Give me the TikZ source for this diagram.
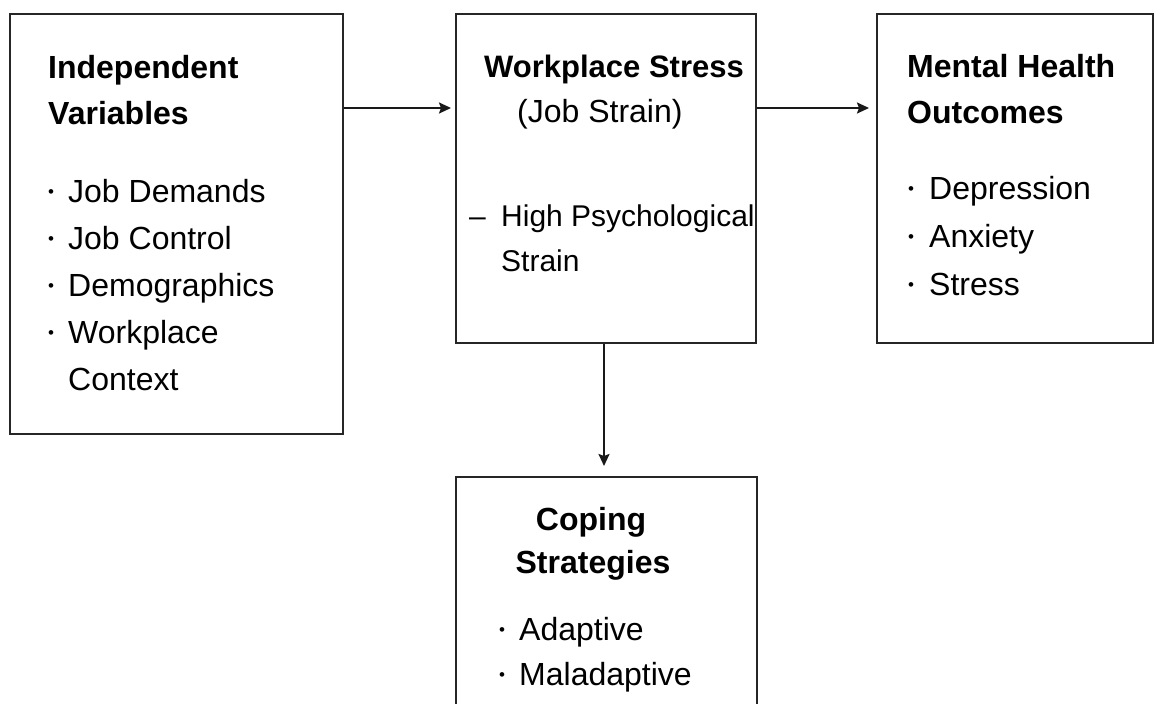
\documentclass[tikz,border=0pt]{standalone}
\usepackage{fontspec}
\setmainfont{Liberation Sans}
\usetikzlibrary{arrows.meta}
\newcommand\bul[1]{\makebox[#1][l]{\raisebox{4.5pt}{\fontsize{17}{17}\selectfont •}}}
\begin{document}
\begin{tikzpicture}[x=1pt,y=-1pt,
  box/.style={draw=black!85, line width=2pt, anchor=north west, inner sep=0pt},
  ttl/.style={anchor=base west, inner sep=0pt, font=\fontsize{32}{38}\selectfont\bfseries},
  txt/.style={anchor=base west, inner sep=0pt, font=\fontsize{32}{38}\selectfont},
  arr/.style={line width=2pt, draw=black!90, -{Stealth[length=12pt,width=11pt,inset=2pt]}}]
\useasboundingbox[fill=white] (0,0) rectangle (1154,704);
% boxes
\node[box, minimum width=333pt, minimum height=420pt] (iv) at (9,13) {};
\node[box, minimum width=300pt, minimum height=329pt] (ws) at (455,13) {};
\node[box, minimum width=276pt, minimum height=329pt] (mh) at (876,13) {};
\node[box, minimum width=301pt, minimum height=250pt] (cs) at (455,476) {};
% box 1 text
\node[ttl] (iv1) at (48,78) {Independent};
\node[ttl] (iv2) at (48,124) {Variables};
\node[txt] (iv3) at (48,202) {\bul{20pt}Job Demands};
\node[txt] (iv4) at (48,249) {\bul{20pt}Job Control};
\node[txt] (iv5) at (48,296) {\bul{20pt}Demographics};
\node[txt] (iv6) at (48,343) {\bul{20pt}Workplace};
\node[txt] (iv7) at (68,390) {Context};
% box 2 text
\node[ttl, font=\fontsize{31}{38}\selectfont\bfseries] (ws1) at (484,77) {Workplace Stress};
\node[txt] (ws2) at (517,122) {(Job Strain)};
\node[txt, font=\fontsize{30}{36}\selectfont] (ws3) at (469,226) {\makebox[32pt][l]{–}High Psychological};
\node[txt, font=\fontsize{30}{36}\selectfont] (ws4) at (501,271) {Strain};
% box 3 text
\node[ttl] (mh1) at (907,77) {Mental Health};
\node[ttl] (mh2) at (907,123) {Outcomes};
\node[txt] (mh3) at (908,199) {\bul{21pt}Depression};
\node[txt] (mh4) at (908,247) {\bul{21pt}Anxiety};
\node[txt] (mh5) at (908,295) {\bul{21pt}Stress};
% box 4 text
\node[ttl, anchor=base] (cs1) at (591,530) {Coping};
\node[ttl, anchor=base] (cs2) at (593,573) {Strategies};
\node[txt] (cs3) at (499,640) {\bul{20pt}Adaptive};
\node[txt] (cs4) at (499,685) {\bul{20pt}Maladaptive};
% connectors
\coordinate (ya) at (0,108);
\coordinate (xa) at (604,0);
\draw[arr] (iv.east |- ya) -- ([xshift=-4pt]ws.west |- ya);
\draw[arr] (ws.east |- ya) -- ([xshift=-7pt]mh.west |- ya);
\draw[arr] (xa |- ws.south) -- ([yshift=10pt]xa |- cs.north);
\end{tikzpicture}
\end{document}
